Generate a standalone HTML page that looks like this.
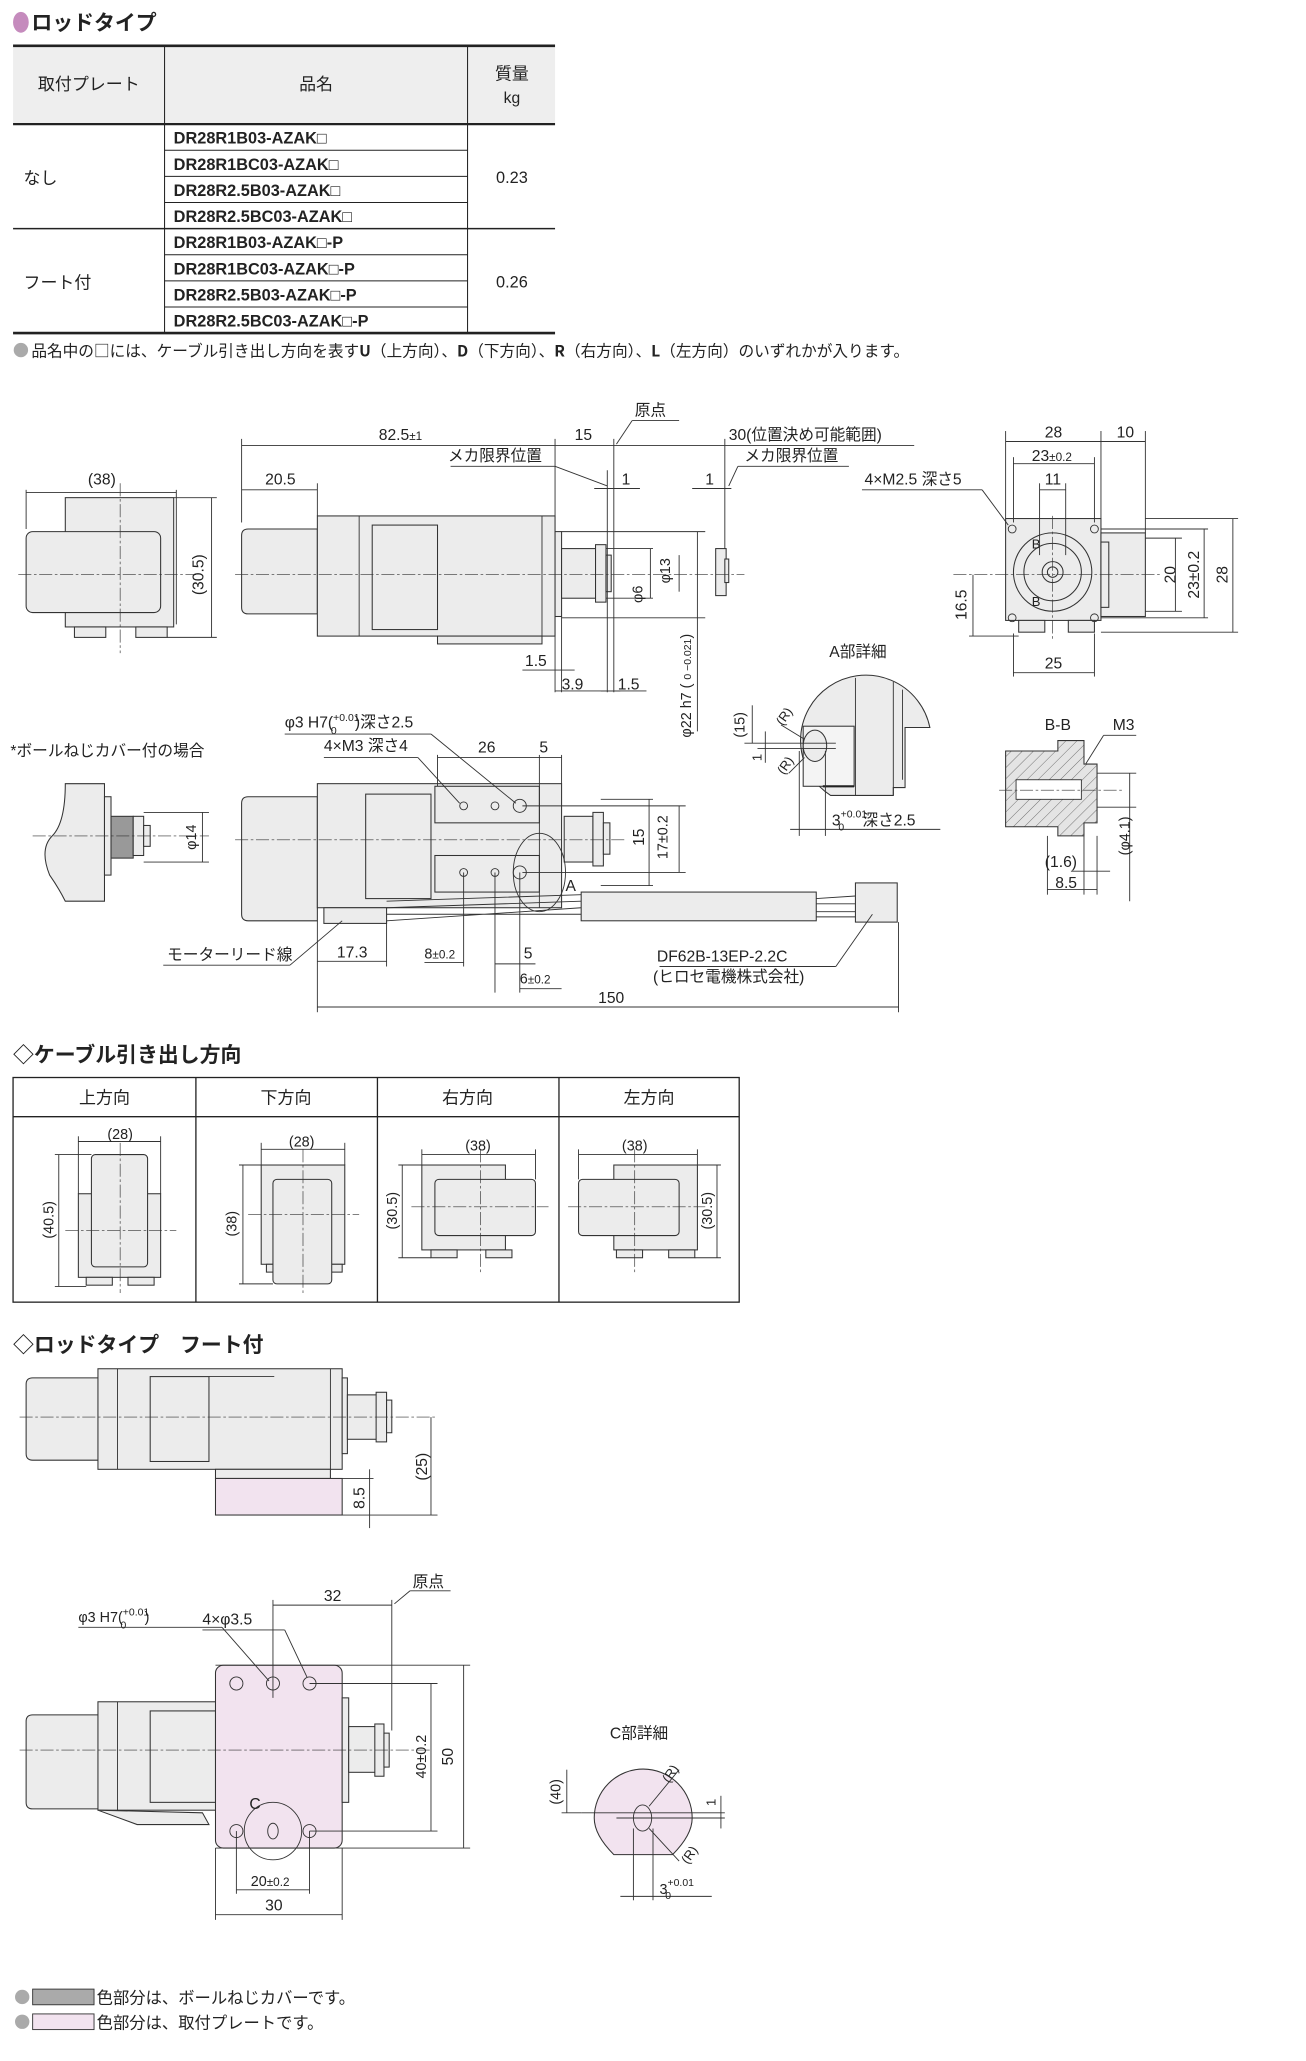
<!DOCTYPE html>
<html><head><meta charset="utf-8"><style>
html,body{margin:0;padding:0;background:#fff}
svg{display:block}
text{font-family:"Liberation Sans","Noto Sans CJK JP",sans-serif;fill:#222}
.j{font-family:"Noto Sans CJK JP","Liberation Sans",sans-serif}
.b{fill:#ececec;stroke:#333;stroke-width:.8}
.p{fill:#f2e3ef;stroke:#333;stroke-width:.8}
.l{fill:none;stroke:#333;stroke-width:.7}
.c{fill:none;stroke:#333;stroke-width:.5;stroke-dasharray:10 2 2 2}
.t{stroke:#222;stroke-width:1}
</style></head><body>
<svg width="1306" height="2061" viewBox="0 0 1000 1578" xmlns="http://www.w3.org/2000/svg">
<ellipse cx="16" cy="17" rx="6" ry="8" fill="#c58bbd"/>
<text x="24" y="23" font-size="16" font-weight="bold" class="j">ロッドタイプ</text>
<rect x="10" y="36" width="415" height="59" fill="#eeeeee"/>
<g class="t">
<line x1="10" y1="35" x2="425" y2="35" stroke-width="2"/>
<line x1="10" y1="95" x2="425" y2="95" stroke-width="1.8"/>
<line x1="10" y1="175" x2="425" y2="175" stroke-width="1.2"/>
<line x1="10" y1="255" x2="425" y2="255" stroke-width="2"/>
<line x1="126" y1="35" x2="126" y2="255" stroke-width=".8"/>
<line x1="358" y1="35" x2="358" y2="255" stroke-width=".8"/>
<line x1="126" y1="115" x2="358" y2="115" stroke-width=".8"/>
<line x1="126" y1="135" x2="358" y2="135" stroke-width=".8"/>
<line x1="126" y1="155" x2="358" y2="155" stroke-width=".8"/>
<line x1="126" y1="195" x2="358" y2="195" stroke-width=".8"/>
<line x1="126" y1="215" x2="358" y2="215" stroke-width=".8"/>
<line x1="126" y1="235" x2="358" y2="235" stroke-width=".8"/>
</g>
<g font-size="13" class="j">
<text x="68" y="69" text-anchor="middle">取付プレート</text>
<text x="242" y="69" text-anchor="middle">品名</text>
<text x="392" y="61" text-anchor="middle">質量</text>
<text x="392" y="79" text-anchor="middle" font-size="12">kg</text>
<text x="18" y="141">なし</text>
<text x="18" y="221">フート付</text>
</g>
<g font-size="12.5" font-weight="bold" class="j">
<text x="133" y="110">DR28R1B03-AZAK□</text>
<text x="133" y="130">DR28R1BC03-AZAK□</text>
<text x="133" y="150">DR28R2.5B03-AZAK□</text>
<text x="133" y="170">DR28R2.5BC03-AZAK□</text>
<text x="133" y="190">DR28R1B03-AZAK□-P</text>
<text x="133" y="210">DR28R1BC03-AZAK□-P</text>
<text x="133" y="230">DR28R2.5B03-AZAK□-P</text>
<text x="133" y="250">DR28R2.5BC03-AZAK□-P</text>
</g>
<text x="392" y="140" font-size="12.5" text-anchor="middle">0.23</text>
<text x="392" y="220" font-size="12.5" text-anchor="middle">0.26</text>
<circle cx="16" cy="268" r="5.5" fill="#aaa"/>
<text x="24" y="273" font-size="12" class="j">品名中の□には、ケーブル引き出し方向を表す<tspan font-weight="bold">U</tspan>（上方向）、<tspan font-weight="bold">D</tspan>（下方向）、<tspan font-weight="bold">R</tspan>（右方向）、<tspan font-weight="bold">L</tspan>（左方向）のいずれかが入ります。</text>

<g font-size="12" class="j">
<rect x="50" y="381" width="83" height="99" class="b"/>
<rect x="20" y="407" width="103" height="62" rx="5" class="b"/>
<rect x="57" y="480" width="24" height="8" class="b"/>
<rect x="104" y="480" width="24" height="8" class="b"/>
<line x1="14" y1="440" x2="150" y2="440" class="c"/>
<line x1="92" y1="370" x2="92" y2="500" class="c"/>
<line x1="20" y1="375" x2="20" y2="405" class="l"/><line x1="135" y1="375" x2="135" y2="478" class="l"/>
<line x1="20" y1="377" x2="135" y2="377" class="l"/>
<text x="78" y="371" text-anchor="middle">(38)</text>
<line x1="133" y1="381" x2="166" y2="381" class="l"/><line x1="128" y1="488" x2="166" y2="488" class="l"/>
<line x1="162" y1="381" x2="162" y2="488" class="l"/>
<text transform="translate(156,440) rotate(-90)" text-anchor="middle">(30.5)</text>

<path d="M190 405 H243 V470 H190 Q185 470 185 465 V410 Q185 405 190 405Z" class="b"/>
<rect x="243" y="395" width="182" height="92" class="b"/>
<line x1="275" y1="395" x2="275" y2="487" class="l"/>
<rect x="285" y="402" width="50" height="80" class="b"/>
<line x1="415" y1="395" x2="415" y2="487" class="l"/>
<rect x="335" y="487" width="80" height="6" class="b"/>
<rect x="425" y="407" width="5" height="65" class="b"/>
<rect x="430" y="420" width="26" height="38" class="b"/>
<rect x="456" y="417" width="8" height="44" class="b"/>
<rect x="464" y="425" width="4" height="28" class="b"/>
<rect x="548" y="420" width="8" height="36" class="b"/>
<rect x="555" y="428" width="3" height="18" class="b"/>
<line x1="180" y1="440" x2="570" y2="440" class="c"/>
<line x1="185" y1="336" x2="185" y2="400" class="l"/>
<line x1="425" y1="336" x2="425" y2="395" class="l"/>
<line x1="470" y1="336" x2="470" y2="530" class="l"/>
<line x1="555" y1="336" x2="555" y2="420" class="l"/>
<line x1="185" y1="341" x2="700" y2="341" class="l"/>
<text x="290" y="337">82.5<tspan font-size="9">±1</tspan></text>
<text x="440" y="337">15</text>
<text x="558" y="337">30(位置決め可能範囲)</text>
<text x="486" y="318">原点</text>
<line x1="484" y1="322" x2="520" y2="322" class="l"/><line x1="484" y1="322" x2="472" y2="340" class="l"/>
<text x="343" y="353">メカ限界位置</text>
<line x1="345" y1="357" x2="425" y2="357" class="l"/><line x1="425" y1="357" x2="465" y2="372" class="l"/>
<text x="570" y="353">メカ限界位置</text>
<line x1="565" y1="357" x2="650" y2="357" class="l"/><line x1="565" y1="357" x2="558" y2="372" class="l"/>
<line x1="243" y1="370" x2="243" y2="395" class="l"/>
<line x1="185" y1="375" x2="243" y2="375" class="l"/>
<text x="203" y="371">20.5</text>
<line x1="465" y1="360" x2="465" y2="530" class="l"/>
<line x1="455" y1="374" x2="490" y2="374" class="l"/><text x="476" y="371">1</text>
<line x1="530" y1="374" x2="560" y2="374" class="l"/><text x="540" y="371">1</text>
<line x1="425" y1="472" x2="425" y2="530" class="l"/>
<line x1="430" y1="472" x2="430" y2="530" class="l"/>
<line x1="400" y1="513" x2="440" y2="513" class="l"/><text x="402" y="510">1.5</text>
<line x1="425" y1="529" x2="475" y2="529" class="l"/><text x="430" y="528">3.9</text>
<line x1="460" y1="529" x2="495" y2="529" class="l"/><text x="473" y="528">1.5</text>
<line x1="464" y1="420" x2="500" y2="420" class="l"/><line x1="464" y1="458" x2="500" y2="458" class="l"/>
<line x1="498" y1="420" x2="498" y2="458" class="l"/>
<line x1="520" y1="425" x2="520" y2="453" class="l"/>
<text transform="translate(513,437) rotate(-90)" text-anchor="middle" font-size="11">φ13</text>
<text transform="translate(492,455) rotate(-90)" text-anchor="middle" font-size="11">φ6</text>
<line x1="430" y1="407" x2="540" y2="407" class="l"/><line x1="430" y1="473" x2="540" y2="473" class="l"/>
<line x1="534" y1="407" x2="534" y2="560" class="l"/>
<text transform="translate(529,525) rotate(-90)" text-anchor="middle" font-size="11">φ22 h7 (  <tspan font-size="8">0 −0.021</tspan>)</text>

<rect x="770" y="397" width="73" height="78" class="b"/>
<rect x="843" y="408" width="34" height="64" class="b"/>
<rect x="843" y="415" width="6" height="50" class="b"/>
<rect x="780" y="475" width="20" height="9" class="b"/>
<rect x="818" y="475" width="20" height="9" class="b"/>
<circle cx="806" cy="438" r="30" class="b"/>
<circle cx="806" cy="438" r="22" class="b"/>
<circle cx="806" cy="438" r="8" class="b"/>
<circle cx="806" cy="438" r="4" class="b"/>
<circle cx="775" cy="405" r="3" class="l"/><circle cx="838" cy="405" r="3" class="l"/>
<circle cx="775" cy="473" r="3" class="l"/><circle cx="838" cy="473" r="3" class="l"/>
<line x1="730" y1="440" x2="890" y2="440" class="c"/>
<line x1="806" y1="395" x2="806" y2="490" class="c"/>
<text x="790" y="420" font-size="10">B</text><text x="790" y="464" font-size="10">B</text>
<line x1="770" y1="330" x2="770" y2="397" class="l"/><line x1="843" y1="330" x2="843" y2="397" class="l"/>
<line x1="877" y1="330" x2="877" y2="408" class="l"/>
<line x1="770" y1="338" x2="877" y2="338" class="l"/>
<text x="800" y="335">28</text><text x="855" y="335">10</text>
<line x1="776" y1="355" x2="838" y2="355" class="l"/>
<line x1="776" y1="350" x2="776" y2="400" class="l"/><line x1="838" y1="350" x2="838" y2="400" class="l"/>
<text x="790" y="353">23<tspan font-size="9">±0.2</tspan></text>
<line x1="796" y1="375" x2="816" y2="375" class="l"/>
<line x1="796" y1="370" x2="796" y2="425" class="l"/><line x1="816" y1="370" x2="816" y2="425" class="l"/>
<text x="800" y="371">11</text>
<text x="662" y="371">4×M2.5 深さ5</text>
<line x1="660" y1="375" x2="752" y2="375" class="l"/><line x1="752" y1="375" x2="772" y2="402" class="l"/>
<line x1="877" y1="412" x2="905" y2="412" class="l"/><line x1="877" y1="468" x2="905" y2="468" class="l"/>
<line x1="900" y1="412" x2="900" y2="468" class="l"/>
<text transform="translate(900,440) rotate(-90)" text-anchor="middle">20</text>
<line x1="843" y1="405" x2="925" y2="405" class="l"/><line x1="843" y1="473" x2="925" y2="473" class="l"/>
<line x1="922" y1="405" x2="922" y2="473" class="l"/>
<text transform="translate(918,440) rotate(-90)" text-anchor="middle">23±0.2</text>
<line x1="877" y1="397" x2="948" y2="397" class="l"/><line x1="843" y1="484" x2="948" y2="484" class="l"/>
<line x1="944" y1="397" x2="944" y2="484" class="l"/>
<text transform="translate(940,440) rotate(-90)" text-anchor="middle">28</text>
<line x1="745" y1="440" x2="745" y2="487" class="l"/><line x1="742" y1="487" x2="780" y2="487" class="l"/>
<text transform="translate(740,463) rotate(-90)" text-anchor="middle">16.5</text>
<line x1="776" y1="485" x2="776" y2="518" class="l"/><line x1="838" y1="485" x2="838" y2="518" class="l"/>
<line x1="776" y1="515" x2="838" y2="515" class="l"/>
<text x="800" y="512">25</text>

<!-- A detail -->
<text x="635" y="503">A部詳細</text>
<path d="M636 609 A50 50 0 1 1 712 557 L693 557 V603 H684 V609 Z" class="b"/>
<line x1="655" y1="519" x2="655" y2="609" class="l"/>
<line x1="684" y1="522" x2="684" y2="609" class="l"/>
<line x1="691" y1="528" x2="691" y2="597" class="l"/>
<rect x="615" y="556" width="39" height="46" fill="#f4f4f4" stroke="#333" stroke-width=".8"/>
<line x1="630" y1="602" x2="654" y2="602" stroke="#222" stroke-width="1.6"/>
<ellipse cx="624" cy="571" rx="9" ry="12" class="b"/>
<line x1="570" y1="569" x2="640" y2="569" class="l"/><line x1="580" y1="573" x2="640" y2="573" class="l"/>
<line x1="576" y1="540" x2="576" y2="569" class="l"/>
<text transform="translate(570,555) rotate(-90)" text-anchor="middle" font-size="11">(15)</text>
<line x1="586" y1="560" x2="586" y2="584" class="l"/>
<text transform="translate(583,580) rotate(-90)" text-anchor="middle" font-size="10">1</text>
<text x="593" y="552" font-size="10" transform="rotate(-55 600 548)">(R)</text>
<line x1="598" y1="555" x2="616" y2="566" class="l"/>
<text x="593" y="590" font-size="10" transform="rotate(-55 600 585)">(R)</text>
<line x1="604" y1="592" x2="616" y2="580" class="l"/>
<line x1="612" y1="575" x2="612" y2="640" class="l"/><line x1="632" y1="575" x2="632" y2="640" class="l"/>
<line x1="605" y1="635" x2="720" y2="635" class="l"/>
<text x="637" y="632">3<tspan font-size="8" dy="-6">+0.01</tspan><tspan font-size="8" dx="-22" dy="10">0</tspan><tspan dy="-4" dx="14">深さ2.5</tspan></text>

<text x="800" y="559">B-B</text><text x="852" y="559">M3</text>
<line x1="845" y1="563" x2="870" y2="563" class="l"/><line x1="845" y1="563" x2="825" y2="595" class="l"/>
<defs><pattern id="h" width="6" height="6" patternUnits="userSpaceOnUse" patternTransform="rotate(45)"><rect width="6" height="6" fill="#e4e4e4"/><line x1="0" y1="0" x2="0" y2="6" stroke="#555" stroke-width=".6"/></pattern></defs>
<path d="M770 575 H810 V567 H830 V585 H840 V630 H830 V640 H810 V633 H770Z" fill="url(#h)" stroke="#333" stroke-width=".8"/>
<rect x="778" y="597" width="50" height="15" fill="#fff" stroke="#333" stroke-width=".7"/>
<line x1="765" y1="605" x2="860" y2="605" class="c"/>
<line x1="840" y1="592" x2="870" y2="592" class="l"/><line x1="840" y1="618" x2="870" y2="618" class="l"/>
<line x1="865" y1="592" x2="865" y2="690" class="l"/>
<text transform="translate(865,640) rotate(-90)" text-anchor="middle" font-size="11">(φ4.1)</text>
<line x1="830" y1="640" x2="830" y2="685" class="l"/><line x1="840" y1="640" x2="840" y2="685" class="l"/>
<line x1="802" y1="640" x2="802" y2="685" class="l"/>
<line x1="820" y1="667" x2="850" y2="667" class="l"/><text x="800" y="664">(1.6)</text>
<line x1="802" y1="681" x2="840" y2="681" class="l"/><text x="808" y="680">8.5</text>

<text x="8" y="579">*ボールねじカバー付の場合</text>
<path d="M50 600 H80 V690 H50 Q45 680 38 670 Q30 650 40 640 Q50 630 50 600Z" class="b"/>
<rect x="80" y="610" width="5" height="60" class="b"/>
<rect x="85" y="625" width="17" height="32" fill="#999" stroke="#333" stroke-width=".8"/>
<rect x="102" y="625" width="8" height="30" class="b"/>
<rect x="110" y="632" width="5" height="16" class="b"/>
<line x1="25" y1="640" x2="160" y2="640" class="c"/>
<line x1="110" y1="622" x2="160" y2="622" class="l"/><line x1="110" y1="660" x2="160" y2="660" class="l"/>
<line x1="155" y1="622" x2="155" y2="660" class="l"/>
<text transform="translate(150,641) rotate(-90)" text-anchor="middle" font-size="11">φ14</text>

<path d="M190 610 H243 V705 H190 Q185 705 185 700 V615 Q185 610 190 610Z" class="b"/>
<rect x="243" y="600" width="187" height="95" class="b"/>
<rect x="280" y="608" width="50" height="80" class="b"/>
<rect x="333" y="602" width="80" height="28" class="b"/>
<rect x="333" y="655" width="80" height="28" class="b"/>
<line x1="413" y1="600" x2="413" y2="695" class="l"/>
<rect x="432" y="625" width="22" height="35" class="b"/>
<rect x="454" y="622" width="8" height="41" class="b"/>
<rect x="462" y="630" width="5" height="24" class="b"/>
<circle cx="355" cy="617" r="3" class="l"/><circle cx="379" cy="617" r="3" class="l"/><circle cx="398" cy="617" r="5" class="l"/>
<circle cx="355" cy="668" r="3" class="l"/><circle cx="379" cy="668" r="3" class="l"/><circle cx="398" cy="668" r="5" class="l"/>
<ellipse cx="413" cy="668" rx="20" ry="30" class="l"/>
<text x="433" y="682">A</text>
<line x1="180" y1="643" x2="480" y2="643" class="c"/>
<rect x="248" y="695" width="48" height="12" class="b"/>
<path d="M296 690 L445 685 M296 695 L445 690 M296 700 L445 700 M296 705 L445 695" class="l"/>
<rect x="445" y="683" width="180" height="22" class="b"/>
<path d="M625 688 L655 686 M625 692 L655 692 M625 698 L655 698 M625 702 L655 702" class="l"/>
<rect x="655" y="676" width="32" height="30" class="b"/>
<line x1="400" y1="617" x2="525" y2="617" class="l"/><line x1="400" y1="668" x2="525" y2="668" class="l"/>
<line x1="520" y1="617" x2="520" y2="668" class="l"/>
<text transform="translate(493,641) rotate(-90)" text-anchor="middle">15</text>
<line x1="460" y1="612" x2="500" y2="612" class="l"/><line x1="460" y1="678" x2="500" y2="678" class="l"/>
<line x1="497" y1="612" x2="497" y2="678" class="l"/>
<text transform="translate(511,641) rotate(-90)" text-anchor="middle" font-size="11">17±0.2</text>
<line x1="335" y1="578" x2="335" y2="602" class="l"/><line x1="413" y1="578" x2="413" y2="600" class="l"/><line x1="430" y1="578" x2="430" y2="600" class="l"/>
<line x1="335" y1="580" x2="430" y2="580" class="l"/>
<text x="366" y="576">26</text><text x="413" y="576">5</text>
<text x="218" y="557">φ3 H7(<tspan font-size="8" dy="-5">+0.01</tspan><tspan font-size="8" dx="-22" dy="10">0</tspan><tspan dy="-5" dx="14">)深さ2.5</tspan></text>
<line x1="218" y1="562" x2="330" y2="562" class="l"/><line x1="330" y1="562" x2="395" y2="615" class="l"/>
<text x="248" y="575">4×M3 深さ4</text>
<line x1="248" y1="580" x2="320" y2="580" class="l"/><line x1="320" y1="580" x2="352" y2="615" class="l"/>
<line x1="296" y1="705" x2="296" y2="740" class="l"/>
<line x1="243" y1="705" x2="243" y2="775" class="l"/>
<line x1="243" y1="736" x2="296" y2="736" class="l"/><text x="258" y="733">17.3</text>
<line x1="355" y1="668" x2="355" y2="740" class="l"/><line x1="379" y1="668" x2="379" y2="760" class="l"/><line x1="398" y1="668" x2="398" y2="760" class="l"/>
<line x1="325" y1="737" x2="355" y2="737" class="l"/><text x="325" y="734" font-size="11">8<tspan font-size="9">±0.2</tspan></text>
<text x="401" y="734">5</text>
<line x1="379" y1="738" x2="410" y2="738" class="l"/>
<text x="398" y="753" font-size="11">6<tspan font-size="9">±0.2</tspan></text>
<line x1="398" y1="757" x2="430" y2="757" class="l"/>
<text x="128" y="735">モーターリード線</text>
<line x1="125" y1="739" x2="222" y2="739" class="l"/><line x1="222" y1="739" x2="262" y2="705" class="l"/>
<line x1="688" y1="706" x2="688" y2="775" class="l"/>
<line x1="243" y1="771" x2="688" y2="771" class="l"/><text x="458" y="768">150</text>
<text x="503" y="736">DF62B-13EP-2.2C</text>
<text x="500" y="752">(ヒロセ電機株式会社)</text>
<line x1="505" y1="740" x2="640" y2="740" class="l"/><line x1="640" y1="740" x2="668" y2="700" class="l"/>
</g>

<text x="10" y="813" font-size="16" font-weight="bold" class="j">◇ケーブル引き出し方向</text>
<rect x="10" y="825" width="556" height="172" fill="none" stroke="#222" stroke-width="1"/>
<line x1="10" y1="855" x2="566" y2="855" stroke="#222"/>
<line x1="150" y1="825" x2="150" y2="997" stroke="#222"/>
<line x1="289" y1="825" x2="289" y2="997" stroke="#222"/>
<line x1="428" y1="825" x2="428" y2="997" stroke="#222"/>
<g font-size="13" class="j" text-anchor="middle">
<text x="80" y="845">上方向</text><text x="219" y="845">下方向</text><text x="358" y="845">右方向</text><text x="497" y="845">左方向</text>
</g>
<g font-size="11" class="j">
<rect x="60" y="914" width="63" height="64" class="b"/>
<rect x="70" y="884" width="43" height="86" rx="3" class="b"/>
<rect x="66" y="978" width="20" height="6" class="b"/><rect x="98" y="978" width="20" height="6" class="b"/>
<line x1="92" y1="875" x2="92" y2="990" class="c"/><line x1="50" y1="942" x2="135" y2="942" class="c"/>
<line x1="60" y1="870" x2="60" y2="914" class="l"/><line x1="123" y1="870" x2="123" y2="914" class="l"/>
<line x1="60" y1="874" x2="123" y2="874" class="l"/><text x="92" y="872" text-anchor="middle">(28)</text>
<line x1="42" y1="884" x2="70" y2="884" class="l"/><line x1="42" y1="985" x2="66" y2="985" class="l"/>
<line x1="45" y1="884" x2="45" y2="985" class="l"/>
<text transform="translate(41,934) rotate(-90)" text-anchor="middle">(40.5)</text>
<rect x="200" y="892" width="64" height="76" class="b"/>
<rect x="204" y="968" width="20" height="6" class="b"/><rect x="242" y="968" width="20" height="6" class="b"/>
<rect x="209" y="903" width="45" height="80" rx="3" class="b"/>
<line x1="232" y1="880" x2="232" y2="990" class="c"/><line x1="190" y1="930" x2="275" y2="930" class="c"/>
<line x1="200" y1="875" x2="200" y2="892" class="l"/><line x1="264" y1="875" x2="264" y2="892" class="l"/>
<line x1="200" y1="880" x2="264" y2="880" class="l"/><text x="231" y="878" text-anchor="middle">(28)</text>
<line x1="183" y1="892" x2="200" y2="892" class="l"/><line x1="183" y1="983" x2="209" y2="983" class="l"/>
<line x1="186" y1="892" x2="186" y2="983" class="l"/>
<text transform="translate(181,937) rotate(-90)" text-anchor="middle">(38)</text>
<rect x="323" y="892" width="64" height="65" class="b"/>
<rect x="330" y="957" width="20" height="6" class="b"/><rect x="372" y="957" width="20" height="6" class="b"/>
<rect x="333" y="903" width="77" height="43" rx="3" class="b"/>
<line x1="368" y1="880" x2="368" y2="975" class="c"/><line x1="315" y1="924" x2="420" y2="924" class="c"/>
<line x1="323" y1="880" x2="323" y2="892" class="l"/><line x1="410" y1="880" x2="410" y2="903" class="l"/>
<line x1="323" y1="884" x2="410" y2="884" class="l"/><text x="366" y="881" text-anchor="middle">(38)</text>
<line x1="305" y1="892" x2="323" y2="892" class="l"/><line x1="305" y1="963" x2="330" y2="963" class="l"/>
<line x1="308" y1="892" x2="308" y2="963" class="l"/>
<text transform="translate(304,927) rotate(-90)" text-anchor="middle">(30.5)</text>
<rect x="470" y="892" width="64" height="65" class="b"/>
<rect x="472" y="957" width="20" height="6" class="b"/><rect x="512" y="957" width="20" height="6" class="b"/>
<rect x="443" y="903" width="77" height="43" rx="3" class="b"/>
<line x1="486" y1="880" x2="486" y2="975" class="c"/><line x1="435" y1="924" x2="540" y2="924" class="c"/>
<line x1="443" y1="880" x2="443" y2="903" class="l"/><line x1="534" y1="880" x2="534" y2="892" class="l"/>
<line x1="443" y1="884" x2="534" y2="884" class="l"/><text x="486" y="881" text-anchor="middle">(38)</text>
<line x1="534" y1="892" x2="552" y2="892" class="l"/><line x1="532" y1="963" x2="552" y2="963" class="l"/>
<line x1="549" y1="892" x2="549" y2="963" class="l"/>
<text transform="translate(545,927) rotate(-90)" text-anchor="middle">(30.5)</text>
</g>

<text x="10" y="1035" font-size="16" font-weight="bold" class="j">◇ロッドタイプ　フート付</text>
<g font-size="12" class="j">
<path d="M25 1055 H90 V1118 H25 Q20 1118 20 1113 V1060 Q20 1055 25 1055Z" class="b"/>
<rect x="75" y="1048" width="187" height="77" class="b"/>
<line x1="90" y1="1048" x2="90" y2="1125" class="l"/>
<rect x="115" y="1054" width="45" height="65" class="b"/>
<line x1="160" y1="1054" x2="210" y2="1054" class="l"/>
<line x1="253" y1="1048" x2="253" y2="1125" class="l"/>
<rect x="262" y="1055" width="4" height="58" class="b"/>
<rect x="266" y="1068" width="27" height="34" class="b"/>
<rect x="288" y="1066" width="8" height="38" class="b"/>
<rect x="296" y="1072" width="4" height="25" class="b"/>
<rect x="165" y="1125" width="88" height="7" class="b"/>
<rect x="165" y="1132" width="97" height="28" class="p"/>
<line x1="15" y1="1085" x2="335" y2="1085" class="c"/>
<line x1="262" y1="1160" x2="335" y2="1160" class="l"/>
<line x1="330" y1="1085" x2="330" y2="1160" class="l"/>
<text transform="translate(327,1123) rotate(-90)" text-anchor="middle">(25)</text>
<line x1="283" y1="1125" x2="283" y2="1170" class="l"/><line x1="262" y1="1132" x2="286" y2="1132" class="l"/>
<text transform="translate(279,1147) rotate(-90)" text-anchor="middle">8.5</text>

<path d="M25 1313 H90 V1385 H25 Q20 1385 20 1380 V1318 Q20 1313 25 1313Z" class="b"/>
<rect x="75" y="1303" width="95" height="83" class="b"/>
<line x1="90" y1="1303" x2="90" y2="1386" class="l"/>
<rect x="115" y="1310" width="50" height="70" class="b"/>
<path d="M75 1386 L155 1388 L160 1397 L105 1397 Z" class="b"/>
<rect x="165" y="1275" width="97" height="140" rx="6" fill="#f2e3ef" stroke="#333" stroke-width=".8"/>
<rect x="262" y="1300" width="5" height="80" class="b"/>
<rect x="267" y="1322" width="22" height="35" class="b"/>
<rect x="287" y="1320" width="7" height="40" class="b"/>
<rect x="294" y="1327" width="4" height="26" class="b"/>
<circle cx="181" cy="1289" r="5" class="l"/><circle cx="209" cy="1289" r="5" class="l"/><circle cx="237" cy="1289" r="5" class="l"/>
<circle cx="181" cy="1402" r="5" class="l"/><circle cx="237" cy="1402" r="5" class="l"/>
<circle cx="209" cy="1402" r="22" class="l"/><ellipse cx="209" cy="1402" rx="4" ry="6" class="l"/>
<text x="191" y="1385">C</text>
<line x1="15" y1="1340" x2="330" y2="1340" class="c"/>
<line x1="209" y1="1225" x2="209" y2="1300" class="l"/><line x1="300" y1="1225" x2="300" y2="1325" class="l"/>
<line x1="209" y1="1229" x2="300" y2="1229" class="l"/><text x="248" y="1226">32</text>
<text x="316" y="1215">原点</text>
<line x1="314" y1="1218" x2="345" y2="1218" class="l"/><line x1="314" y1="1218" x2="302" y2="1228" class="l"/>
<text x="60" y="1242" font-size="11">φ3 H7(<tspan font-size="8" dy="-5">+0.01</tspan><tspan font-size="8" dx="-22" dy="10">0</tspan><tspan dy="-5" dx="14">)</tspan></text>
<line x1="60" y1="1246" x2="170" y2="1246" class="l"/><line x1="170" y1="1246" x2="206" y2="1287" class="l"/>
<text x="155" y="1244">4×φ3.5</text>
<line x1="155" y1="1248" x2="218" y2="1248" class="l"/><line x1="218" y1="1248" x2="235" y2="1284" class="l"/>
<line x1="165" y1="1275" x2="360" y2="1275" class="l"/><line x1="165" y1="1415" x2="360" y2="1415" class="l"/>
<line x1="237" y1="1289" x2="335" y2="1289" class="l"/><line x1="237" y1="1402" x2="335" y2="1402" class="l"/>
<line x1="330" y1="1289" x2="330" y2="1402" class="l"/>
<text transform="translate(326,1345) rotate(-90)" text-anchor="middle" font-size="11">40±0.2</text>
<line x1="355" y1="1275" x2="355" y2="1415" class="l"/>
<text transform="translate(347,1345) rotate(-90)" text-anchor="middle">50</text>
<line x1="181" y1="1402" x2="181" y2="1450" class="l"/><line x1="237" y1="1402" x2="237" y2="1450" class="l"/>
<line x1="181" y1="1447" x2="237" y2="1447" class="l"/><text x="192" y="1444" font-size="11">20<tspan font-size="9">±0.2</tspan></text>
<line x1="165" y1="1415" x2="165" y2="1470" class="l"/><line x1="262" y1="1415" x2="262" y2="1470" class="l"/>
<line x1="165" y1="1466" x2="262" y2="1466" class="l"/><text x="203" y="1463">30</text>

<text x="467" y="1331">C部詳細</text>
<path d="M470 1420 Q455 1405 455 1392 A37 37 0 1 1 530 1392 Q530 1405 515 1420Z" class="p"/>
<ellipse cx="492" cy="1392" rx="7" ry="10" class="l"/>
<line x1="445" y1="1388" x2="555" y2="1388" class="l"/><line x1="472" y1="1392" x2="555" y2="1392" class="l"/>
<line x1="445" y1="1388" x2="430" y2="1388" class="l"/><line x1="434" y1="1355" x2="434" y2="1388" class="l"/>
<text transform="translate(429,1372) rotate(-90)" text-anchor="middle" font-size="11">(40)</text>
<line x1="552" y1="1375" x2="552" y2="1400" class="l"/>
<text transform="translate(548,1380) rotate(-90)" text-anchor="middle" font-size="10">1</text>
<text x="505" y="1362" font-size="10" transform="rotate(-55 512 1357)">(R)</text>
<line x1="520" y1="1355" x2="497" y2="1383" class="l"/>
<text x="520" y="1425" font-size="10" transform="rotate(-55 526 1420)">(R)</text>
<line x1="520" y1="1425" x2="497" y2="1400" class="l"/>
<line x1="485" y1="1400" x2="485" y2="1455" class="l"/><line x1="500" y1="1400" x2="500" y2="1455" class="l"/>
<line x1="475" y1="1452" x2="545" y2="1452" class="l"/>
<text x="505" y="1450" font-size="11">3<tspan font-size="8" dy="-6">+0.01</tspan><tspan font-size="8" dx="-22" dy="10">0</tspan></text>
</g>

<circle cx="17" cy="1529" r="5.5" fill="#aaa"/>
<rect x="25" y="1523" width="47" height="12" fill="#aaa" stroke="#333" stroke-width=".7"/>
<text x="74" y="1534" font-size="12.5" class="j">色部分は、ボールねじカバーです。</text>
<circle cx="17" cy="1548" r="5.5" fill="#aaa"/>
<rect x="25" y="1542" width="47" height="12" fill="#f2e3ef" stroke="#333" stroke-width=".7"/>
<text x="74" y="1553" font-size="12.5" class="j">色部分は、取付プレートです。</text>
</svg>
</body></html>
